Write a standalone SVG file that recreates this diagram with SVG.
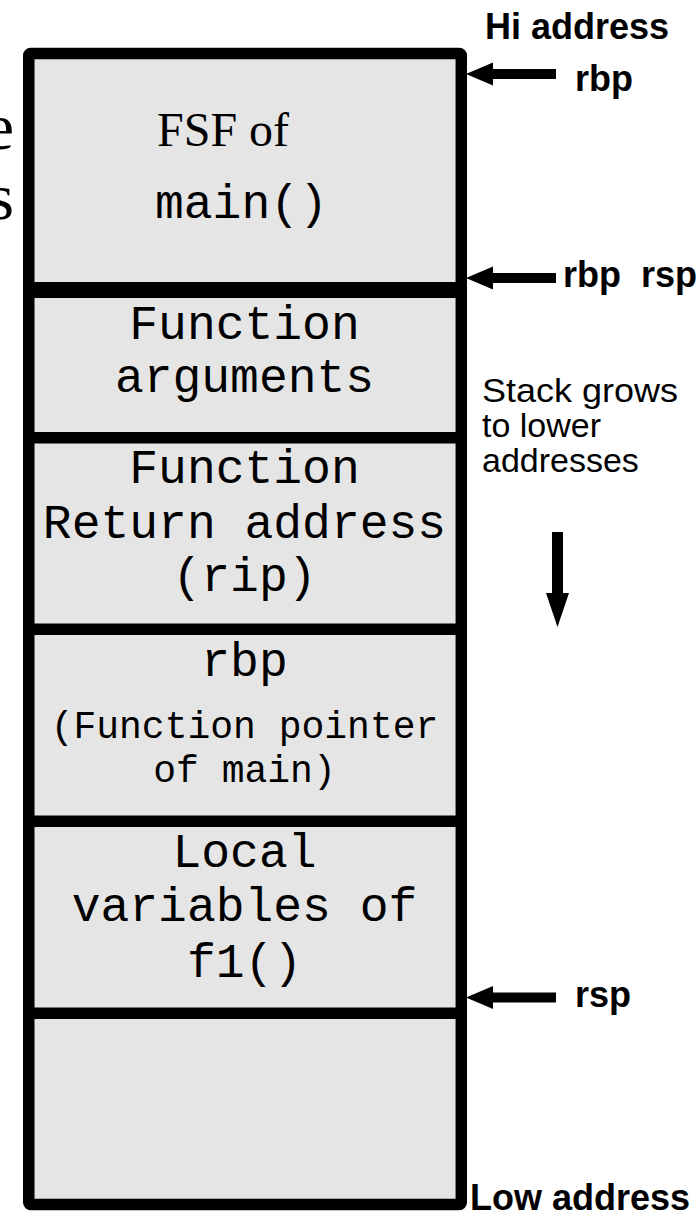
<svg xmlns="http://www.w3.org/2000/svg" xmlns:xlink="http://www.w3.org/1999/xlink" width="700" height="1218" viewBox="0 0 700 1218">
  <style>
    .cell { fill: #e5e5e5; stroke: none; }
    .mono { font-family: "Courier New", "Liberation Mono", monospace; font-size: 48px; fill: #000; text-anchor: middle; }
    .mono-sm { font-family: "Courier New", "Liberation Mono", monospace; font-size: 38px; fill: #000; text-anchor: middle; }
    .serif { font-family: "Liberation Serif", "Times New Roman", serif; fill: #000; }
    .label { font-family: "Liberation Sans", Arial, sans-serif; font-size: 36px; font-weight: bold; fill: #000; }
    .note { font-family: "Liberation Sans", Arial, sans-serif; font-size: 34px; fill: #000; }
    .border { fill: none; stroke: #000; stroke-width: 11.5; stroke-linejoin: round; }
    .divider { fill: #000; }
    .arrow { fill: #000; }
  </style>
  <defs>
    <!-- left-pointing block arrow, tip at origin -->
    <path id="arrowL" d="M0,0 L27,-11.5 L27,-5 L90,-5 L90,5 L27,5 L27,11.5 Z"/>
  </defs>

  <rect width="700" height="1218" fill="#fff"/>

  <!-- fragments of a heading that runs off the left edge -->
  <text class="serif" x="14" y="149" font-size="66" text-anchor="end">e</text>
  <text class="serif" x="14" y="219" font-size="66" text-anchor="end">s</text>

  <!-- stack frame cells -->
  <g id="cell-main-frame">
    <rect class="cell" x="34" y="59" width="421" height="223"/>
    <text class="serif" x="157" y="146" font-size="48">FSF of</text>
    <text class="mono" x="155" y="218" style="text-anchor:start">main()</text>
  </g>
  <g id="cell-arguments">
    <rect class="cell" x="34" y="298" width="421" height="134"/>
    <text class="mono" x="244.5" y="339">Function</text>
    <text class="mono" x="244.5" y="392">arguments</text>
  </g>
  <g id="cell-return-address">
    <rect class="cell" x="34" y="443" width="421" height="181"/>
    <text class="mono" x="244.5" y="483">Function</text>
    <text class="mono" x="244.5" y="538">Return address</text>
    <text class="mono" x="244.5" y="591">(rip)</text>
  </g>
  <g id="cell-saved-rbp">
    <rect class="cell" x="34" y="635" width="421" height="181"/>
    <text class="mono" x="244.5" y="676">rbp</text>
    <text class="mono-sm" x="244.5" y="738">(Function pointer</text>
    <text class="mono-sm" x="244.5" y="782">of main)</text>
  </g>
  <g id="cell-locals">
    <rect class="cell" x="34" y="827" width="421" height="181"/>
    <text class="mono" x="244.5" y="867">Local</text>
    <text class="mono" x="244.5" y="921">variables of</text>
    <text class="mono" x="244.5" y="977">f1()</text>
  </g>
  <g id="cell-free">
    <rect class="cell" x="34" y="1019" width="421" height="180"/>
  </g>

  <!-- column outline and cell dividers -->
  <g id="frame">
    <rect class="border" x="28.75" y="53.5" width="432.5" height="1151" rx="2"/>
    <rect class="divider" x="23" y="282" width="444" height="16"/>
    <rect class="divider" x="23" y="432" width="444" height="11.5"/>
    <rect class="divider" x="23" y="623.5" width="444" height="11.5"/>
    <rect class="divider" x="23" y="815.5" width="444" height="11.5"/>
    <rect class="divider" x="23" y="1007.5" width="444" height="11.5"/>
  </g>

  <!-- register pointers and growth direction -->
  <g id="connectors">
    <use xlink:href="#arrowL" class="arrow" x="466" y="74"/>
    <use xlink:href="#arrowL" class="arrow" x="466" y="278"/>
    <use xlink:href="#arrowL" class="arrow" x="466" y="997.5"/>
    <path class="arrow" d="M552,532 L563,532 L563,593 L569,593 L557.5,627 L546,593 L552,593 Z"/>
  </g>

  <!-- labels -->
  <g id="labels">
    <text class="label" x="485" y="39">Hi address</text>
    <text class="label" x="575" y="91">rbp</text>
    <text class="label" x="563" y="287" xml:space="preserve">rbp  rsp</text>
    <text class="label" x="575" y="1007">rsp</text>
    <text class="label" x="470" y="1210">Low address</text>
    <text class="note" x="482" y="402" textLength="196" lengthAdjust="spacingAndGlyphs">Stack grows</text>
    <text class="note" x="482" y="437">to lower</text>
    <text class="note" x="482" y="472">addresses</text>
  </g>
</svg>
